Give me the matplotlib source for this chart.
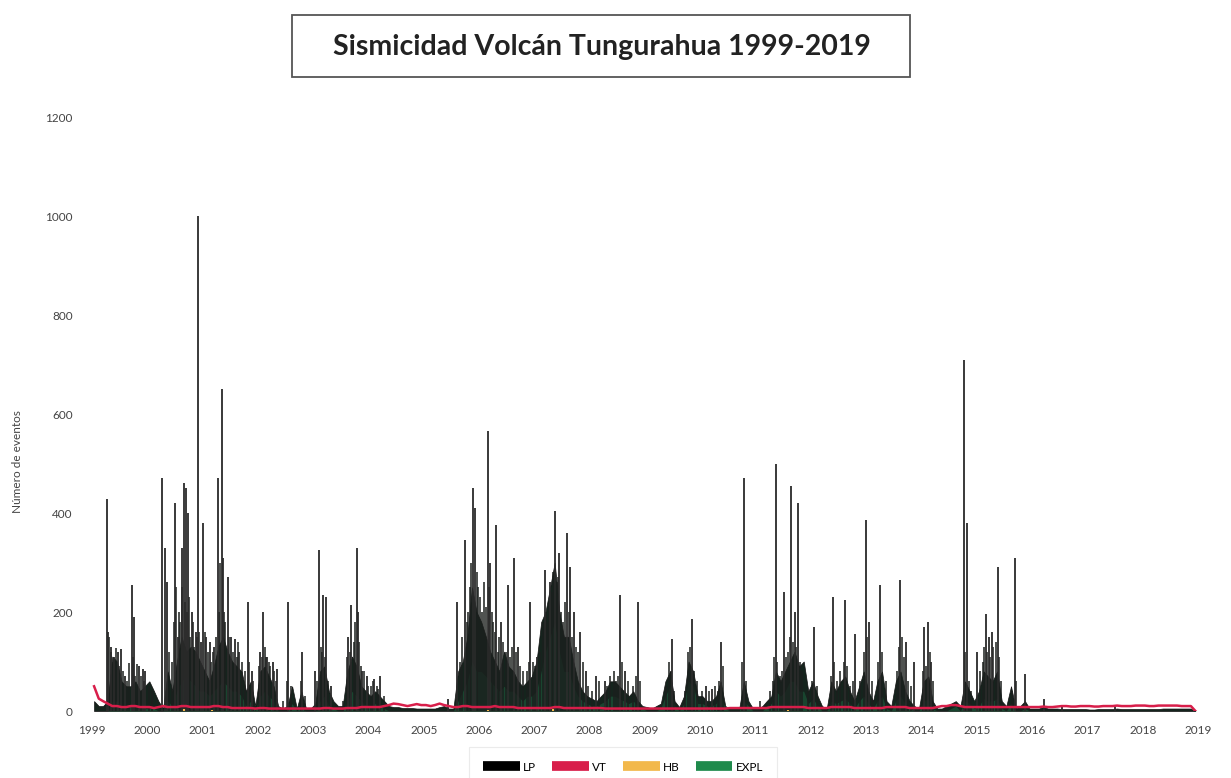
import numpy as np
import pandas as pd
import matplotlib
matplotlib.use("Agg")
import matplotlib.pyplot as plt
from matplotlib.patches import Rectangle

plt.rcParams['font.family'] = ['Lato', 'DejaVu Sans']

# =====================================================
# DATA
# =====================================================

# LP - largest daily peaks
lp_peak_dates = [
    "1999-04-10", "1999-04-20", "1999-05-05", "1999-05-25", "1999-06-20", "1999-07-15",
    "1999-08-10", "1999-09-20", "1999-10-05", "1999-11-05", "1999-12-01", "1999-12-20",
    "2000-04-10", "2000-04-25", "2000-05-10", "2000-07-01", "2000-07-20", "2000-08-15",
    "2000-08-28", "2000-09-10", "2000-09-25", "2000-10-20", "2000-11-15", "2000-12-02",
    "2000-12-20", "2001-01-05", "2001-01-25", "2001-02-20", "2001-03-20", "2001-04-12",
    "2001-05-08", "2001-05-18", "2001-06-15", "2001-07-10", "2001-08-05", "2001-09-01",
    "2001-10-28", "2001-11-20", "2002-01-15", "2002-02-02", "2002-03-01", "2002-04-10",
    "2002-05-10", "2002-07-20", "2002-10-20", "2003-01-15", "2003-02-08", "2003-03-10",
    "2003-03-25", "2003-05-01", "2003-08-20", "2003-09-10", "2003-10-15", "2003-10-25",
    "2003-11-20", "2003-12-20", "2004-02-10", "2004-03-20", "2005-06-10", "2005-08-10",
    "2005-09-30", "2005-11-20", "2005-12-05", "2006-02-28", "2006-03-15", "2006-04-25",
    "2006-05-25", "2006-07-10", "2006-08-20", "2006-09-15", "2006-12-01", "2007-01-20",
    "2007-03-10", "2007-04-15", "2007-05-20", "2007-06-15", "2007-08-05", "2007-08-25",
    "2007-09-20", "2007-10-30", "2007-12-10", "2008-02-15", "2008-04-10", "2008-07-20",
    "2008-08-20", "2008-11-15", "2009-06-30", "2009-11-05", "2010-02-10", "2010-03-20",
    "2010-05-20", "2010-10-15", "2011-05-15", "2011-07-10", "2011-08-25", "2011-09-15",
    "2011-10-10", "2012-01-25", "2012-05-25", "2012-08-15", "2012-10-20", "2012-12-28",
    "2013-01-20", "2013-04-01", "2013-08-15", "2013-09-20", "2013-11-10", "2014-01-20",
    "2014-02-15", "2014-03-05", "2014-10-08", "2014-10-25", "2015-01-01", "2015-03-01",
    "2015-03-20", "2015-04-10", "2015-05-20", "2015-09-08", "2015-11-15", "2016-03-20",
    "2016-07-20", "2017-07-01",
]
lp_peak_values = [
    428, 160, 130, 110, 120, 125,
    70, 255, 190, 90, 85, 80,
    470, 330, 260, 420, 150, 330,
    460, 450, 400, 200, 160, 1000,
    140, 380, 150, 140, 130, 470,
    650, 310, 270, 150, 145, 120,
    220, 80, 120, 200, 110, 100,
    85, 220, 120, 80, 325, 235,
    230, 50, 150, 215, 330, 200,
    80, 70, 65, 70, 25, 220,
    345, 450, 410, 565, 300, 375,
    180, 255, 310, 130, 220, 110,
    285, 260, 405, 320, 360, 290,
    200, 160, 80, 70, 60, 235,
    80, 220, 145, 185, 50, 45,
    140, 470, 500, 240, 455, 200,
    420, 170, 230, 225, 155, 385,
    180, 255, 265, 140, 100, 170,
    180, 100, 710, 380, 120, 195,
    150, 160, 290, 310, 75, 25,
    12, 10,
]

# LP - smaller daily peaks inside the dense clusters
lp_minor_dates = [
    "1999-04-25", "1999-05-10", "1999-05-20", "1999-06-05", "1999-06-10", "1999-07-01",
    "1999-07-25", "1999-08-20", "1999-09-05", "1999-09-28", "1999-10-15", "1999-10-25",
    "1999-11-20", "1999-12-10", "2000-01-10", "2000-02-01", "2000-05-25", "2000-06-10",
    "2000-06-25", "2000-07-10", "2000-07-28", "2000-08-05", "2000-08-20", "2000-09-05",
    "2000-09-18", "2000-10-05", "2000-10-10", "2000-10-28", "2000-11-05", "2000-11-25",
    "2000-12-10", "2001-01-15", "2001-02-05", "2001-02-28", "2001-03-10", "2001-04-01",
    "2001-04-20", "2001-04-28", "2001-05-25", "2001-06-01", "2001-06-25", "2001-07-20",
    "2001-08-15", "2001-08-25", "2001-09-15", "2001-10-10", "2001-11-05", "2001-12-01",
    "2002-01-05", "2002-01-25", "2002-02-15", "2002-02-25", "2002-03-15", "2002-03-25",
    "2002-04-20", "2002-05-01", "2002-06-15", "2002-07-10", "2002-08-10", "2002-10-10",
    "2002-11-10", "2003-01-25", "2003-02-20", "2003-03-01", "2003-03-18", "2003-04-10",
    "2003-07-20", "2003-08-10", "2003-09-01", "2003-09-25", "2003-10-05", "2003-10-30",
    "2003-11-10", "2003-12-05", "2003-12-30", "2004-01-15", "2004-01-30", "2004-02-25",
    "2004-03-05", "2004-04-10", "2005-08-25", "2005-09-10", "2005-10-10", "2005-10-20",
    "2005-11-01", "2005-11-10", "2005-12-15", "2005-12-25", "2006-01-10", "2006-01-20",
    "2006-02-05", "2006-02-15", "2006-03-05", "2006-03-25", "2006-04-05", "2006-04-15",
    "2006-05-05", "2006-05-15", "2006-06-10", "2006-06-25", "2006-07-25", "2006-08-05",
    "2006-08-30", "2006-09-30", "2006-10-20", "2006-11-10", "2006-11-25", "2006-12-20",
    "2007-01-05", "2007-02-10", "2007-02-25", "2007-03-20", "2007-03-30", "2007-04-05",
    "2007-04-25", "2007-05-05", "2007-05-28", "2007-06-05", "2007-06-25", "2007-07-10",
    "2007-07-25", "2007-08-15", "2007-09-05", "2007-09-30", "2007-10-15", "2007-11-15",
    "2007-12-20", "2008-01-15", "2008-03-01", "2008-04-25", "2008-05-15", "2008-06-10",
    "2008-06-25", "2008-07-05", "2008-08-05", "2008-09-10", "2008-10-15", "2008-10-30",
    "2008-11-30", "2009-05-20", "2009-06-10", "2009-06-20", "2009-07-10", "2009-09-20",
    "2009-10-10", "2009-10-25", "2009-11-20", "2009-12-10", "2010-01-10", "2010-02-25",
    "2010-04-10", "2010-04-25", "2010-05-05", "2010-05-30", "2010-10-05", "2010-10-30",
    "2011-02-01", "2011-04-05", "2011-04-25", "2011-05-05", "2011-05-25", "2011-06-10",
    "2011-06-25", "2011-07-20", "2011-08-05", "2011-08-15", "2011-09-05", "2011-09-25",
    "2011-10-20", "2011-11-05", "2011-12-10", "2012-01-10", "2012-02-10", "2012-05-10",
    "2012-06-05", "2012-06-20", "2012-07-10", "2012-08-05", "2012-08-25", "2012-09-15",
    "2012-10-05", "2012-11-20", "2012-12-15", "2013-01-05", "2013-02-10", "2013-03-20",
    "2013-04-15", "2013-05-10", "2013-07-25", "2013-08-05", "2013-08-28", "2013-09-05",
    "2013-10-05", "2013-10-25", "2014-01-10", "2014-01-30", "2014-02-25", "2014-03-20",
    "2014-10-15", "2014-11-10", "2014-11-25", "2015-01-20", "2015-02-10", "2015-02-20",
    "2015-03-10", "2015-03-30", "2015-04-20", "2015-05-05", "2015-05-28", "2015-06-10",
    "2015-08-20", "2015-09-20",
]
lp_minor_values = [
    150, 120, 100, 95, 127, 90,
    80, 60, 97, 110, 70, 95,
    70, 60, 50, 40, 120, 100,
    180, 250, 200, 180, 250, 220,
    200, 230, 150, 180, 130, 150,
    160, 160, 120, 100, 120, 150,
    200, 300, 200, 180, 150, 120,
    110, 140, 100, 80, 100, 60,
    90, 110, 130, 110, 100, 90,
    80, 60, 20, 60, 50, 60,
    30, 60, 130, 120, 110, 60,
    20, 110, 120, 140, 180, 140,
    90, 80, 50, 50, 60, 50,
    45, 30, 100, 150, 180, 200,
    250, 300, 280, 250, 230, 200,
    260, 210, 250, 200, 180, 160,
    120, 150, 140, 120, 110, 130,
    120, 90, 80, 80, 100, 100,
    90, 120, 180, 200, 180, 220,
    240, 280, 260, 270, 200, 180,
    220, 200, 150, 130, 120, 100,
    50, 40, 60, 50, 70, 80,
    60, 70, 100, 60, 50, 70,
    60, 50, 100, 80, 40, 40,
    120, 130, 80, 60, 40, 40,
    50, 40, 60, 90, 100, 60,
    20, 40, 60, 110, 100, 70,
    80, 110, 120, 150, 140, 130,
    100, 80, 40, 60, 50, 70,
    100, 60, 80, 100, 90, 50,
    60, 60, 120, 150, 60, 100,
    120, 60, 80, 130, 150, 110,
    60, 50, 80, 90, 120, 60,
    120, 60, 40, 80, 100, 130,
    120, 110, 130, 140, 110, 60,
    40, 60,
]

# monthly levels, Jan 1999 - Dec 2018
months = pd.date_range("1999-01-01", periods=240, freq="MS") + pd.Timedelta(days=14)

lp_level = [
    20, 10, 10, 20, 110, 100, 60, 50, 50, 60, 40, 50,      # 1999
    60, 40, 20, 5, 80, 40, 100, 150, 120, 130, 120, 100,   # 2000
    80, 60, 90, 130, 150, 120, 100, 90, 80, 40, 60, 10,    # 2001
    80, 90, 70, 50, 10, 5, 10, 50, 5, 40, 5, 5,            # 2002
    15, 80, 90, 40, 20, 10, 10, 80, 110, 90, 50, 40,       # 2003
    30, 40, 30, 20, 10, 8, 8, 6, 6, 6, 5, 5,               # 2004
    5, 5, 5, 8, 10, 5, 5, 80, 100, 150, 250, 200,          # 2005
    180, 150, 120, 100, 80, 120, 90, 80, 60, 50, 60, 70,   # 2006
    100, 180, 200, 250, 300, 200, 150, 150, 100, 60, 40, 30,  # 2007
    25, 20, 30, 40, 60, 60, 50, 40, 30, 40, 20, 10,        # 2008
    8, 5, 10, 15, 60, 80, 20, 8, 30, 100, 80, 30,          # 2009
    30, 20, 20, 30, 60, 10, 5, 5, 5, 60, 20, 5,            # 2010
    5, 10, 20, 30, 80, 60, 80, 100, 120, 90, 100, 40,      # 2011
    60, 30, 10, 5, 60, 40, 60, 70, 40, 20, 50, 80,         # 2012
    40, 20, 60, 80, 20, 10, 60, 80, 40, 20, 10, 5,         # 2013
    60, 70, 20, 5, 5, 10, 15, 20, 10, 60, 40, 20,          # 2014
    40, 80, 70, 60, 80, 20, 10, 50, 5, 10, 20, 5,          # 2015
    5, 5, 8, 5, 5, 5, 4, 4, 4, 4, 4, 4,                    # 2016
    3, 3, 4, 4, 4, 4, 5, 4, 4, 4, 4, 4,                    # 2017
    4, 4, 4, 4, 5, 5, 5, 5, 5, 5, 5, 0,                    # 2018
]

vt_level = [
    50, 25, 20, 15, 10, 10, 8, 8, 10, 10, 8, 8,            # 1999
    8, 6, 8, 10, 8, 8, 8, 10, 10, 8, 8, 8,                 # 2000
    8, 8, 10, 10, 8, 8, 6, 6, 6, 6, 6, 5,                  # 2001
    6, 6, 5, 5, 5, 5, 5, 5, 5, 5, 5, 5,                    # 2002
    5, 5, 6, 6, 5, 5, 5, 6, 6, 6, 8, 8,                    # 2003
    8, 8, 8, 10, 12, 15, 14, 12, 10, 12, 14, 12,           # 2004
    12, 10, 12, 15, 12, 10, 8, 8, 10, 10, 8, 8,            # 2005
    8, 8, 8, 10, 8, 8, 8, 8, 6, 6, 6, 6,                   # 2006
    6, 6, 6, 6, 8, 8, 6, 6, 6, 6, 6, 6,                    # 2007
    6, 6, 6, 5, 5, 5, 5, 5, 5, 5, 5, 5,                    # 2008
    5, 5, 5, 5, 5, 5, 5, 5, 5, 5, 5, 5,                    # 2009
    5, 5, 5, 5, 5, 5, 6, 6, 6, 6, 6, 6,                    # 2010
    6, 6, 6, 8, 8, 8, 8, 8, 8, 8, 8, 6,                    # 2011
    6, 6, 6, 6, 8, 8, 8, 8, 8, 6, 6, 6,                    # 2012
    6, 6, 6, 6, 8, 8, 8, 8, 8, 6, 6, 6,                    # 2013
    6, 6, 6, 8, 10, 10, 12, 12, 10, 8, 8, 8,               # 2014
    8, 8, 8, 8, 8, 8, 8, 8, 8, 8, 8, 8,                    # 2015
    8, 8, 9, 8, 8, 9, 10, 10, 9, 9, 10, 10,                # 2016
    10, 9, 9, 10, 10, 10, 11, 10, 10, 10, 11, 11,          # 2017
    11, 10, 10, 11, 11, 11, 11, 11, 10, 10, 10, 0,         # 2018
]

expl_level = [
    0, 0, 0, 0, 20, 20, 10, 10, 10, 10, 5, 5,              # 1999
    5, 5, 0, 0, 20, 10, 40, 60, 70, 60, 50, 40,            # 2000
    40, 30, 40, 50, 60, 50, 40, 40, 30, 10, 20, 0,         # 2001
    30, 40, 30, 20, 0, 0, 0, 15, 0, 10, 0, 0,              # 2002
    0, 20, 30, 10, 5, 0, 0, 20, 40, 30, 20, 10,            # 2003
    10, 15, 10, 5, 0, 0, 0, 0, 0, 0, 0, 0,                 # 2004
    0, 0, 0, 0, 0, 0, 0, 20, 40, 60, 100, 80,              # 2005
    80, 70, 60, 50, 40, 50, 40, 40, 30, 20, 30, 30,        # 2006
    40, 80, 120, 150, 180, 120, 80, 80, 50, 30, 20, 15,    # 2007
    10, 10, 15, 20, 30, 30, 25, 20, 15, 20, 10, 5,         # 2008
    0, 0, 0, 5, 30, 50, 10, 0, 15, 60, 50, 15,             # 2009
    15, 10, 10, 15, 30, 5, 0, 0, 0, 20, 10, 0,             # 2010
    0, 0, 10, 15, 40, 30, 40, 60, 60, 40, 40, 15,          # 2011
    25, 10, 0, 0, 20, 15, 20, 25, 15, 5, 20, 30,           # 2012
    15, 5, 20, 30, 5, 0, 20, 30, 15, 5, 0, 0,              # 2013
    20, 25, 5, 0, 0, 0, 5, 10, 0, 20, 15, 5,               # 2014
    10, 25, 20, 20, 25, 5, 0, 15, 0, 0, 5, 0,              # 2015
    0, 0, 0, 0, 0, 0, 0, 0, 0, 0, 0, 0,                    # 2016
    0, 0, 0, 0, 0, 0, 0, 0, 0, 0, 0, 0,                    # 2017
    0, 0, 0, 0, 0, 0, 0, 0, 0, 0, 0, 0,                    # 2018
]

hb_dates = ["2000-09-01", "2001-03-01", "2006-03-01", "2007-05-01", "2011-08-01"]
hb_values = [4, 3, 3, 4, 3]

series_labels = ["LP", "VT", "HB", "EXPL"]
series_colors = ["#000000", "#d81e4a", "#f2b84b", "#1f8a4c"]

# =====================================================
# PLOT
# =====================================================

fig = plt.figure(figsize=(12.31, 7.78), dpi=100)
ax = fig.add_axes([0.0747, 0.0861, 0.8985, 0.7635])

ax.fill_between(months, 0, lp_level, color="#15241d", lw=0.5, edgecolor="#111111")
ax.vlines(pd.to_datetime(lp_minor_dates), 0, lp_minor_values, color="#1b1f1d", lw=1.1)
ax.vlines(pd.to_datetime(lp_peak_dates), 0, lp_peak_values, color="#2a2a2a", lw=1.3)
ax.fill_between(months, 0, expl_level, color="#1f6e45", alpha=0.45, lw=0)
ax.vlines(pd.to_datetime(hb_dates), 0, hb_values, color=series_colors[2], lw=1.5)
ax.plot(months, vt_level, color=series_colors[1], lw=1.8)

ax.set_xlim(pd.Timestamp("1999-01-01"), pd.Timestamp("2019-01-01"))
ax.set_ylim(0, 1200)
ax.set_yticks(range(0, 1201, 200))
years = list(range(1999, 2020))
ax.set_xticks([pd.Timestamp(f"{y}-01-01") for y in years])
ax.set_xticklabels([str(y) for y in years])

for s in ax.spines.values():
    s.set_visible(False)
ax.tick_params(length=0, labelsize=8.5, colors="#444444")
ax.tick_params(axis="x", pad=10)
ax.tick_params(axis="y", pad=14)

ax.set_ylabel("Número de eventos", fontsize=8.5, color="#444444")
ax.yaxis.set_label_coords(-0.062, 0.42)

# legend
handles = [plt.Line2D([0], [0], color=c, lw=7, solid_capstyle="butt") for c in series_colors]
leg = fig.legend(handles, series_labels, loc="center", bbox_to_anchor=(0.506, 0.014),
                 ncol=4, frameon=True, fontsize=8.5, handlelength=3.1, handletextpad=0.25,
                 columnspacing=1.4, borderpad=0.9)
leg.get_frame().set_edgecolor("#e6e6e6")
leg.get_frame().set_linewidth(0.8)
leg.get_frame().set_boxstyle("square")

# title box
fig.patches.append(Rectangle((0.2372, 0.901), 0.502, 0.0797, transform=fig.transFigure,
                             fill=False, edgecolor="#555555", lw=1.3))
fig.text(0.489, 0.940, "Sismicidad Volcán Tungurahua 1999-2019", ha="center", va="center",
         fontsize=20.5, fontweight="bold", color="#222222")

plt.savefig("out.png", dpi=100)
plt.close()
